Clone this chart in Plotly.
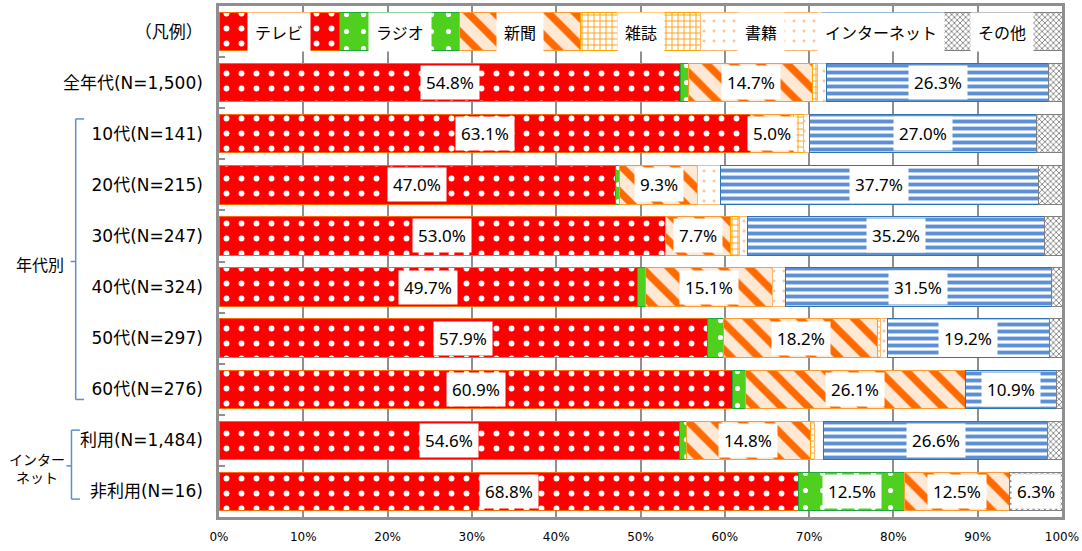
import plotly.graph_objects as go

# ---------------- data ----------------
categories = ["（凡例）", "全年代(N=1,500)", "10代(N=141)", "20代(N=215)", "30代(N=247)",
              "40代(N=324)", "50代(N=297)", "60代(N=276)", "利用(N=1,484)", "非利用(N=16)"]
series_names = ["テレビ", "ラジオ", "新聞", "雑誌", "書籍", "インターネット", "その他"]
tv = [54.8, 63.1, 47.0, 53.0, 49.7, 57.9, 60.9, 54.6, 68.8]
radio = [0.9, 0.0, 0.5, 0.0, 0.9, 2.0, 1.5, 0.8, 12.5]
newspaper = [14.7, 5.0, 9.3, 7.7, 15.1, 18.2, 26.1, 14.8, 12.5]
magazine = [0.6, 1.2, 0.0, 1.0, 0.0, 0.4, 0.0, 0.4, 0.0]
books = [1.1, 0.7, 2.7, 1.0, 1.5, 0.8, 0.0, 1.1, 0.0]
internet = [26.3, 27.0, 37.7, 35.2, 31.5, 19.2, 10.9, 26.6, 0.0]
other = [1.6, 3.0, 2.8, 2.1, 1.3, 1.5, 0.6, 1.7, 6.3]
tick_vals = [0, 10, 20, 30, 40, 50, 60, 70, 80, 90, 100]
tick_text = ["0%", "10%", "20%", "30%", "40%", "50%", "60%", "70%", "80%", "90%", "100%"]
group_labels = ["年代別", "インター<br>ネット"]

series_values = [tv, radio, newspaper, magazine, books, internet, other]
legend_share = 100.0 / len(series_names)   # the legend row: equal segments

# ---------------- styles ----------------
styles = [
    dict(color="#FF0000", line="#FF6A00", shape=".", fg="#FFFFFF", size=15, sol=0.12),
    dict(color="#50D01E", line="#1FA83A", shape=".", fg="#FFFFFF", size=17, sol=0.07),
    dict(color="#FDE9D5", line="#FF9A2E", shape="\\", fg="#FF6A00", size=19, sol=0.38),
    dict(color="#FFFFFF", line="#FFA500", shape="+", fg="#FFA21C", size=6, sol=0.3),
    dict(color="#FFFFFF", line="#FBB870", shape=".", fg="#F9C79A", size=10, sol=0.07),
    dict(color="#FFFFFF", line="#2E75B6", shape="-", fg="#5B8FD6", size=7, sol=0.55),
    dict(color="#FFFFFF", line="#808080", shape="x", fg="#7A7A7A", size=4, sol=0.38),
]

FONT = "DejaVu Sans, Noto Sans CJK JP"
LABEL_FONT = "Liberation Sans Narrow, Noto Sans, sans-serif"
JP_FONT = "Noto Sans CJK JP"
grid_col = "#8F8F8F"

fig = go.Figure()
for name, vals, st in zip(series_names, series_values, styles):
    fig.add_trace(go.Bar(
        name=name,
        orientation="h",
        y=categories,
        x=[legend_share] + list(vals),
        marker=dict(
            color=st["color"],
            line=dict(color=st["line"], width=1),
            pattern=dict(shape=st["shape"], fgcolor=st["fg"], bgcolor=st["color"],
                         size=st["size"], solidity=st["sol"], fillmode="overlay",
                         fgopacity=1),
        ),
        hoverinfo="skip",
    ))

annotations = []
# legend row labels
for i, name in enumerate(series_names):
    annotations.append(dict(
        x=(i + 0.5) * legend_share, y=categories[0], xref="x", yref="y",
        text=name, showarrow=False, bgcolor="#FFFFFF", borderpad=7,
        font=dict(family=JP_FONT, size=16, color="#000000"),
    ))
# value labels
for r, cat in enumerate(categories[1:]):
    start = 0.0
    for vals in series_values:
        v = vals[r]
        if v >= 5:
            annotations.append(dict(
                x=start + v / 2, y=cat, xref="x", yref="y",
                text=f"{v:.1f}%", showarrow=False, bgcolor="#FFFFFF", borderpad=5,
                font=dict(family=LABEL_FONT, size=17, color="#000000"),
            ))
        start += v

# group labels on the left
annotations.append(dict(x=-0.212, y=4.55, xref="paper", yref="y", text=group_labels[0],
                        xanchor="center", showarrow=False,
                        font=dict(family=JP_FONT, size=16, color="#000000")))
annotations.append(dict(x=-0.216, y=8.55, xref="paper", yref="y", text=group_labels[1],
                        xanchor="center", showarrow=False, align="center",
                        font=dict(family=JP_FONT, size=14, color="#000000")))

# brackets
br_col = "#5B8FD0"
shapes = []
def bracket(xv, xr, xl, y0, y1, ym):
    line = dict(color=br_col, width=1.5)
    shapes.append(dict(type="line", xref="paper", yref="y", x0=xv, x1=xv, y0=y0, y1=y1, line=line))
    shapes.append(dict(type="line", xref="paper", yref="y", x0=xv, x1=xr, y0=y0, y1=y0, line=line))
    shapes.append(dict(type="line", xref="paper", yref="y", x0=xv, x1=xr, y0=y1, y1=y1, line=line))
    shapes.append(dict(type="line", xref="paper", yref="y", x0=xv, x1=xl, y0=ym, y1=ym, line=line))

bracket(-0.170, -0.160, -0.176, 1.71, 7.2, 4.5)
bracket(-0.175, -0.165, -0.181, 7.8, 9.15, 8.5)

fig.update_layout(
    width=1082, height=551,
    margin=dict(l=219, r=20, t=6, b=34, autoexpand=False),
    barmode="stack", bargap=0.25,
    showlegend=False,
    plot_bgcolor="#FFFFFF", paper_bgcolor="#FFFFFF",
    font=dict(family=FONT, color="#000000"),
    annotations=annotations,
    shapes=shapes,
)
fig.update_xaxes(
    range=[0, 100], tickvals=tick_vals, ticktext=tick_text,
    showgrid=True, gridcolor=grid_col, gridwidth=2,
    showline=True, linecolor=grid_col, linewidth=2.5, mirror=True,
    ticks="", tickfont=dict(family=FONT, size=12, color="#000000"),
    ticklabelstandoff=7, automargin=False,
    zeroline=False, fixedrange=True,
)
fig.update_yaxes(
    type="category", categoryorder="array", categoryarray=categories,
    autorange="reversed",
    showline=True, linecolor=grid_col, linewidth=2.5, mirror=True,
    ticks="inside", tickson="boundaries", ticklen=6, tickwidth=2, tickcolor=grid_col,
    tickfont=dict(family=FONT, size=17, color="#000000"),
    ticklabelstandoff=10, automargin=False,
    showgrid=False, fixedrange=True,
)

fig.write_html("out.html", config={"displayModeBar": False},
               post_script="document.body.style.margin='0px';")
